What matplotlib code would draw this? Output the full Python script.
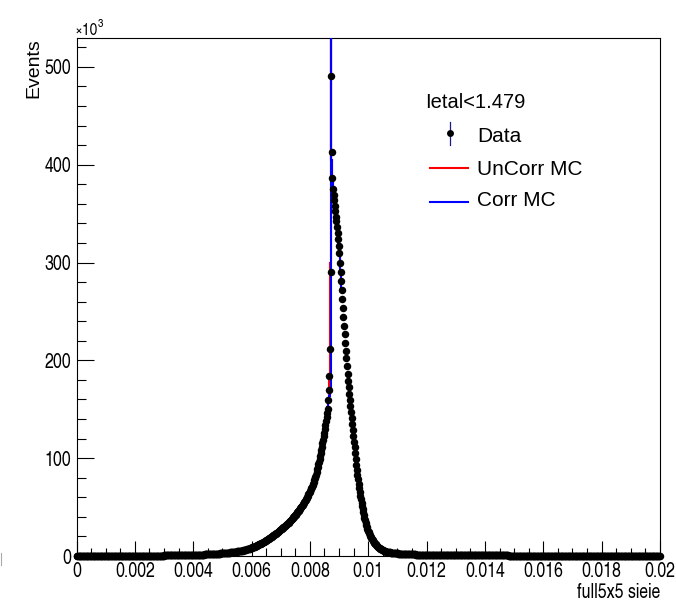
import numpy as np
import matplotlib
matplotlib.use("Agg")
import matplotlib.pyplot as plt
from matplotlib.lines import Line2D
from matplotlib.ticker import MultipleLocator, FuncFormatter
from matplotlib import font_manager as fm

# ---------------- data (values in thousands of events) ----------------
x_min, x_max, n_bins = 0.0, 0.02, 1000

data_left_tail_k = [
    0.1, 0.1, 0.1, 0.1, 0.1, 0.1, 0.1, 0.1, 0.1, 0.1,
    0.1, 0.1, 0.1, 0.1, 0.1, 0.1, 0.1, 0.1, 0.1, 0.1,
    0.1, 0.1, 0.1, 0.1, 0.1, 0.1, 0.1, 0.1, 0.1, 0.1,
    0.1, 0.1, 0.1, 0.1, 0.1, 0.1, 0.1, 0.1, 0.1, 0.1,
    0.2, 0.2, 0.2, 0.2, 0.2, 0.2, 0.2, 0.2, 0.2, 0.2,
    0.2, 0.2, 0.2, 0.2, 0.2, 0.2, 0.2, 0.2, 0.2, 0.2,
    0.2, 0.2, 0.2, 0.2, 0.2, 0.2, 0.2, 0.2, 0.2, 0.2,
    0.2, 0.2, 0.2, 0.2, 0.2, 0.2, 0.2, 0.2, 0.2, 0.2,
    0.3, 0.3, 0.3, 0.3, 0.3, 0.3, 0.3, 0.3, 0.3, 0.3,
    0.3, 0.3, 0.3, 0.3, 0.3, 0.3, 0.3, 0.3, 0.3, 0.3,
    0.3, 0.3, 0.3, 0.3, 0.3, 0.3, 0.3, 0.3, 0.3, 0.3,
    0.3, 0.3, 0.3, 0.3, 0.3, 0.3, 0.3, 0.3, 0.3, 0.3,
    0.4, 0.4, 0.4, 0.4, 0.4, 0.4, 0.4, 0.4, 0.4, 0.4,
    0.4, 0.4, 0.4, 0.4, 0.4, 0.4, 0.4, 0.4, 0.4, 0.4,
    0.5, 0.5, 0.5, 0.5, 0.5, 0.5, 0.5, 0.5, 0.5, 0.5,
    0.6, 0.6, 0.6, 0.6, 0.6, 0.6, 0.6, 0.6, 0.6, 0.6,
    0.7, 0.7, 0.7, 0.7, 0.7, 0.7, 0.7, 0.7, 0.7, 0.7,
    0.8, 0.8, 0.8, 0.8, 0.8, 0.8, 0.8, 0.8, 0.8, 0.8,
    0.9, 0.9, 0.9, 0.9, 0.9, 0.9, 0.9, 0.9, 0.9, 0.9,
    1.0, 1.0, 1.0, 1.0, 1.0, 1.0, 1.0, 1.0, 1.0, 1.0,
]

data_core_k = [
    1.1, 1.1, 1.2, 1.2, 1.2, 1.2, 1.2, 1.3, 1.3, 1.3,
    1.3, 1.3, 1.4, 1.4, 1.4, 1.4, 1.5, 1.5, 1.5, 1.6,
    1.6, 1.6, 1.7, 1.7, 1.7, 1.7, 1.8, 1.8, 1.8, 1.9,
    1.9, 2.0, 2.0, 2.0, 2.1, 2.1, 2.2, 2.2, 2.2, 2.3,
    2.3, 2.4, 2.4, 2.4, 2.5, 2.5, 2.6, 2.7, 2.7, 2.8,
    2.8, 2.9, 2.9, 3.0, 3.0, 3.0, 3.1, 3.2, 3.2, 3.3,
    3.3, 3.4, 3.5, 3.6, 3.7, 3.7, 3.8, 3.9, 4.0, 4.1,
    4.2, 4.3, 4.4, 4.5, 4.6, 4.7, 4.8, 4.9, 5.0, 5.1,
    5.2, 5.3, 5.4, 5.5, 5.6, 5.8, 5.9, 6.1, 6.2, 6.3,
    6.5, 6.7, 6.9, 7.0, 7.2, 7.4, 7.6, 7.8, 8.0, 8.2,
    8.4, 8.7, 8.9, 9.1, 9.4, 9.7, 10.0, 10.3, 10.6, 10.9,
    11.2, 11.5, 11.8, 12.1, 12.4, 12.7, 13.0, 13.4, 13.7, 14.0,
    14.4, 14.7, 15.1, 15.5, 15.8, 16.2, 16.6, 17.0, 17.4, 17.8,
    18.2, 18.6, 19.0, 19.4, 19.8, 20.2, 20.7, 21.1, 21.5, 22.0,
    22.4, 22.9, 23.4, 23.8, 24.3, 24.8, 25.3, 25.8, 26.3, 26.8,
    27.3, 27.8, 28.3, 28.8, 29.3, 29.8, 30.3, 30.8, 31.3, 31.8,
    32.3, 32.9, 33.5, 34.1, 34.7, 35.4, 36.1, 36.8, 37.5, 38.2,
    38.9, 39.6, 40.3, 41.0, 41.7, 42.4, 43.2, 44.0, 44.8, 45.6,
    46.4, 47.2, 48.0, 48.8, 49.6, 50.5, 51.5, 52.5, 53.5, 54.5,
    55.5, 56.5, 57.5, 58.5, 59.5, 60.6, 61.8, 63.0, 64.2, 65.4,
    66.7, 68.1, 69.5, 70.9, 72.3, 73.9, 75.7, 77.5, 79.3, 81.1,
    83.3, 85.9, 88.5, 91.1, 93.7, 96.5, 99.5, 102.5, 105.5, 108.5,
    111.8, 115.4, 119.0, 122.6, 126.2, 130.0, 134.0, 138.0, 142.0, 146.0,
    150.0, 159.0, 170.0, 184.0, 212.0, 290.0, 491.0, 413.0, 386.0, 375.0,
    369.0, 364.0, 358.0, 353.0, 347.0, 342.0, 336.0, 330.0, 324.0, 317.0,
    309.3, 299.9, 290.5, 281.1, 271.7, 262.5, 253.5, 244.5, 235.5, 226.5,
    218.0, 210.0, 202.0, 194.0, 186.0, 178.8, 172.4, 166.0, 159.6, 153.2,
    147.0, 141.0, 135.0, 129.0, 123.0, 117.0, 111.0, 105.0, 99.0, 93.0,
    87.7, 83.1, 78.5, 73.9, 69.3, 65.2, 61.6, 58.0, 54.4, 50.8,
    47.6, 44.8, 42.0, 39.2, 36.4, 34.0, 32.0, 30.0, 28.0, 26.0,
    24.4, 23.1, 21.8, 20.5, 19.2, 18.0, 17.0, 16.0, 15.0, 14.0,
    13.2, 12.5, 11.8, 11.1, 10.4, 9.8, 9.3, 8.8, 8.3, 7.8,
    7.4, 7.1, 6.8, 6.4, 6.1, 5.8, 5.5, 5.3, 5.1, 4.8,
    4.6, 4.5, 4.3, 4.1, 4.0, 3.8, 3.7, 3.6, 3.5, 3.4,
    3.3, 3.2, 3.1, 3.0, 2.9, 2.9, 2.8, 2.8, 2.7, 2.6,
    2.6, 2.5, 2.5, 2.4, 2.4, 2.4, 2.3, 2.3, 2.2, 2.2,
    2.2, 2.1, 2.1, 2.0, 2.0, 2.0, 2.0, 1.9, 1.9, 1.9,
    1.9, 1.8, 1.8, 1.8, 1.7, 1.7, 1.7, 1.6, 1.6, 1.6,
    1.6, 1.5, 1.5, 1.5, 1.4, 1.4, 1.4, 1.3, 1.3, 1.3,
    1.3, 1.3, 1.2, 1.2, 1.2, 1.2, 1.2, 1.1, 1.1, 1.1,
]

data_right_tail_k = [
    1.0, 1.0, 1.0, 1.0, 1.0, 1.0, 1.0, 1.0, 1.0, 1.0,
    1.0, 1.0, 1.0, 1.0, 1.0, 1.0, 1.0, 1.0, 1.0, 1.0,
    0.9, 0.9, 0.9, 0.9, 0.9, 0.9, 0.9, 0.9, 0.9, 0.9,
    0.9, 0.9, 0.9, 0.9, 0.9, 0.9, 0.9, 0.9, 0.9, 0.9,
    0.8, 0.8, 0.8, 0.8, 0.8, 0.8, 0.8, 0.8, 0.8, 0.8,
    0.8, 0.8, 0.8, 0.8, 0.8, 0.8, 0.8, 0.8, 0.8, 0.8,
    0.8, 0.8, 0.8, 0.8, 0.8, 0.8, 0.8, 0.8, 0.8, 0.8,
    0.8, 0.8, 0.8, 0.8, 0.8, 0.8, 0.8, 0.8, 0.8, 0.8,
    0.7, 0.7, 0.7, 0.7, 0.7, 0.7, 0.7, 0.7, 0.7, 0.7,
    0.7, 0.7, 0.7, 0.7, 0.7, 0.7, 0.7, 0.7, 0.7, 0.7,
    0.6, 0.6, 0.6, 0.6, 0.6, 0.6, 0.6, 0.6, 0.6, 0.6,
    0.6, 0.6, 0.6, 0.6, 0.6, 0.6, 0.6, 0.6, 0.6, 0.6,
    0.6, 0.6, 0.6, 0.6, 0.6, 0.6, 0.6, 0.6, 0.6, 0.6,
    0.6, 0.6, 0.6, 0.6, 0.6, 0.6, 0.6, 0.6, 0.6, 0.6,
    0.5, 0.5, 0.5, 0.5, 0.5, 0.5, 0.5, 0.5, 0.5, 0.5,
    0.5, 0.5, 0.5, 0.5, 0.5, 0.5, 0.5, 0.5, 0.5, 0.5,
    0.5, 0.5, 0.5, 0.5, 0.5, 0.5, 0.5, 0.5, 0.5, 0.5,
    0.5, 0.5, 0.5, 0.5, 0.5, 0.5, 0.5, 0.5, 0.5, 0.5,
    0.5, 0.5, 0.5, 0.5, 0.5, 0.5, 0.5, 0.5, 0.5, 0.5,
    0.5, 0.5, 0.5, 0.5, 0.5, 0.5, 0.5, 0.5, 0.5, 0.5,
    0.4, 0.4, 0.4, 0.4, 0.4, 0.4, 0.4, 0.4, 0.4, 0.4,
    0.4, 0.4, 0.4, 0.4, 0.4, 0.4, 0.4, 0.4, 0.4, 0.4,
    0.4, 0.4, 0.4, 0.4, 0.4, 0.4, 0.4, 0.4, 0.4, 0.4,
    0.4, 0.4, 0.4, 0.4, 0.4, 0.4, 0.4, 0.4, 0.4, 0.4,
    0.4, 0.4, 0.4, 0.4, 0.4, 0.4, 0.4, 0.4, 0.4, 0.4,
    0.4, 0.4, 0.4, 0.4, 0.4, 0.4, 0.4, 0.4, 0.4, 0.4,
    0.3, 0.3, 0.3, 0.3, 0.3, 0.3, 0.3, 0.3, 0.3, 0.3,
    0.3, 0.3, 0.3, 0.3, 0.3, 0.3, 0.3, 0.3, 0.3, 0.3,
    0.3, 0.3, 0.3, 0.3, 0.3, 0.3, 0.3, 0.3, 0.3, 0.3,
    0.3, 0.3, 0.3, 0.3, 0.3, 0.3, 0.3, 0.3, 0.3, 0.3,
    0.3, 0.3, 0.3, 0.3, 0.3, 0.3, 0.3, 0.3, 0.3, 0.3,
    0.3, 0.3, 0.3, 0.3, 0.3, 0.3, 0.3, 0.3, 0.3, 0.3,
    0.3, 0.3, 0.3, 0.3, 0.3, 0.3, 0.3, 0.3, 0.3, 0.3,
    0.3, 0.3, 0.3, 0.3, 0.3, 0.3, 0.3, 0.3, 0.3, 0.3,
    0.2, 0.2, 0.2, 0.2, 0.2, 0.2, 0.2, 0.2, 0.2, 0.2,
    0.2, 0.2, 0.2, 0.2, 0.2, 0.2, 0.2, 0.2, 0.2, 0.2,
    0.2, 0.2, 0.2, 0.2, 0.2, 0.2, 0.2, 0.2, 0.2, 0.2,
    0.2, 0.2, 0.2, 0.2, 0.2, 0.2, 0.2, 0.2, 0.2, 0.2,
    0.2, 0.2, 0.2, 0.2, 0.2, 0.2, 0.2, 0.2, 0.2, 0.2,
    0.2, 0.2, 0.2, 0.2, 0.2, 0.2, 0.2, 0.2, 0.2, 0.2,
]

# MC histograms around the peak (bins 425..454, centres 0.00851 .. 0.00909)
mc_first_bin = 425
uncorr_mc_k = [130, 134, 138, 142, 146, 150, 159, 170, 184, 300,
               300, 640, 405, 384, 375, 369, 364, 358, 353, 347,
               342, 336, 330, 324, 317, 309, 300, 290, 281, 272]
corr_mc_k = [130, 134, 138, 142, 146, 152, 158, 161, 164, 167,
             170, 640, 405, 384, 375, 369, 364, 358, 353, 347,
             342, 336, 330, 324, 317, 309, 300, 290, 281, 272]

y_max_k = 529
x_ticks_major = 0.002
x_ticks_minor = 0.0005
header = "Ietal<1.479"
labels = ["Data", "UnCorr MC", "Corr MC"]

# ---------------- fonts ----------------
names = {f.name for f in fm.fontManager.ttflist}
if "TeX Gyre Heros Cn" in names:
    NARROW, TICK_FS = "TeX Gyre Heros Cn", 14
elif "Liberation Sans Narrow" in names:
    NARROW, TICK_FS = "Liberation Sans Narrow", 14
else:
    NARROW, TICK_FS = "Liberation Sans", 12.5
REG = "Liberation Sans"
plt.rcParams["font.family"] = [REG, "DejaVu Sans"]

W, H = 676, 602
fig = plt.figure(figsize=(W / 100, H / 100), dpi=100)
ax = fig.add_axes([76.5 / W, 46 / H, 583.5 / W, 517.5 / H])

edges = np.linspace(x_min, x_max, n_bins + 1)
centers = 0.5 * (edges[:-1] + edges[1:])
data_k = np.concatenate([data_left_tail_k, data_core_k, data_right_tail_k])

mc_edges = edges[mc_first_bin: mc_first_bin + len(corr_mc_k) + 1]
ax.stairs(uncorr_mc_k, mc_edges, baseline=None, color="#ff0000", lw=1.5, zorder=2)
ax.stairs(corr_mc_k, mc_edges, baseline=None, color="#0000ff", lw=1.5, zorder=3)
ax.plot(centers, data_k, "o", color="black", ms=5.4, mew=0, zorder=4, clip_on=False)

ax.set_xlim(x_min, x_max)
ax.set_ylim(0, y_max_k)

ax.xaxis.set_major_locator(MultipleLocator(x_ticks_major))
ax.xaxis.set_minor_locator(MultipleLocator(x_ticks_minor))
ax.yaxis.set_major_locator(MultipleLocator(100))
ax.yaxis.set_minor_locator(MultipleLocator(20))
ax.xaxis.set_major_formatter(FuncFormatter(lambda v, p: f"{round(v, 6):g}"))
ax.yaxis.set_major_formatter(FuncFormatter(lambda v, p: f"{v:g}"))

ax.tick_params(axis="both", which="both", direction="in", top=False, right=False,
               width=0.8, color="black")
ax.tick_params(axis="x", which="major", length=10.8, pad=4.5)
ax.tick_params(axis="x", which="minor", length=5.6)
ax.tick_params(axis="y", which="major", length=12.2, pad=4)
ax.tick_params(axis="y", which="minor", length=6.4)
for lab in ax.get_xticklabels() + ax.get_yticklabels():
    lab.set_fontfamily(NARROW)
    lab.set_fontsize(TICK_FS)
for s in ax.spines.values():
    s.set_linewidth(0.8)

xl = ax.set_xlabel("full5x5 sieie", fontsize=TICK_FS, fontfamily=NARROW)
xl.set_ha("right")
xl.set_va("baseline")
ax.xaxis.set_label_coords(1.0, (556 - 598) / 517.5)

yl = ax.set_ylabel("Events", fontsize=14, fontfamily=REG, loc="top")
ax.yaxis.set_label_coords((42 - 76.5) / 583.5, 1.0)

# x10^3 multiplier
fig.text(75 / W, 1 - 35 / H, "×10", fontsize=12, fontfamily=[NARROW, REG],
         va="baseline", ha="left")
fig.text(97.5 / W, 1 - 27 / H, "3", fontsize=8.5, fontfamily=NARROW, va="baseline", ha="left")

# ---------------- legend ----------------
def fp(x, y):
    return (x / W, 1 - y / H)

fig.text(*fp(425, 108), header, fontsize=14.5, fontfamily=REG, va="baseline", ha="left")
txt_y = [142, 175, 206]
for lab, yb in zip(labels, txt_y):
    fig.text(*fp(477, yb), lab, fontsize=15, fontfamily=REG, va="baseline", ha="left")
mx, my = fp(449.5, 133.3)
fig.add_artist(Line2D([mx, mx], [fp(0, 122)[1], fp(0, 145)[1]], transform=fig.transFigure,
                      color="#1a1a8c", lw=0.9))
fig.add_artist(Line2D([mx], [my], transform=fig.transFigure, marker="o", ms=5.0,
                      mew=0, color="black", ls="none"))
for col, yy in [("#ff0000", 168.3), ("#0000ff", 202.0)]:
    a, b = fp(430, yy), fp(468, yy)
    fig.add_artist(Line2D([a[0], b[0]], [a[1], b[1]], transform=fig.transFigure,
                          color=col, lw=1.5))

# small grey mark at left edge
fig.add_artist(Line2D([fp(1, 0)[0]] * 2, [fp(0, 553)[1], fp(0, 565)[1]],
                      transform=fig.transFigure, color="#aaaaaa", lw=0.8))

fig.savefig("out.png", dpi=100)
